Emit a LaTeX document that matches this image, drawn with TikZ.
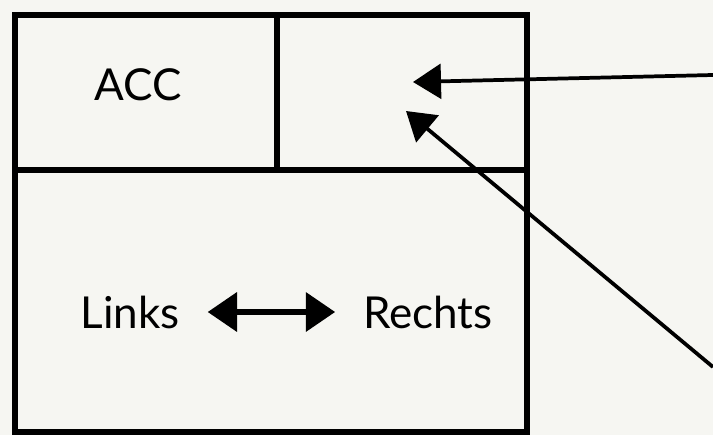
\documentclass[tikz,border=0pt]{standalone}
\usepackage{fontspec}
\setmainfont{Lato}
\usetikzlibrary{arrows.meta}
\definecolor{paper}{RGB}{246,246,242}
\tikzset{every picture/.style={line width=0.75pt}}
\tikzset{
  wall/.style={line width=4.5},
  label/.style={inner sep=0.75pt,font=\fontsize{33}{38}\selectfont},
  pointer/.style={line width=2.8,-{Triangle[length=21pt,width=26pt]}},
  swap/.style={line width=3.8,{Triangle[length=22pt,width=29pt]}-{Triangle[length=22pt,width=29pt]}},
}

\begin{document}
\begin{tikzpicture}[x=0.75pt,y=0.75pt,yscale=-1,xscale=1]
%set diagram size
\fill [paper] (0,0) rectangle (713,435);
\useasboundingbox (0,0) rectangle (713,435);

%Shape: Rectangle
\draw [wall] (15,15) rectangle (527,432);
%Straight Lines
\draw [wall] (15,170) -- (527,170);
\draw [wall] (277,15) -- (277,170);

% Text Node
\node [label] (acc) at (138,85) {ACC};
% Text Node
\node [label] (links) at (130,312) {Links};
% Text Node
\node [label] (rechts) at (428,312) {Rechts};

\coordinate (top) at (713,75);
\coordinate (low) at (713,367);
\coordinate (hit1) at (413,82);
\coordinate (hit2) at (406,111);

%Straight Lines
\draw [pointer] (top) -- (hit1);
\draw [pointer] (low) -- (hit2);
\draw [swap, shorten <=20, shorten >=20] (links) -- (rechts);

\end{tikzpicture}
\end{document}
